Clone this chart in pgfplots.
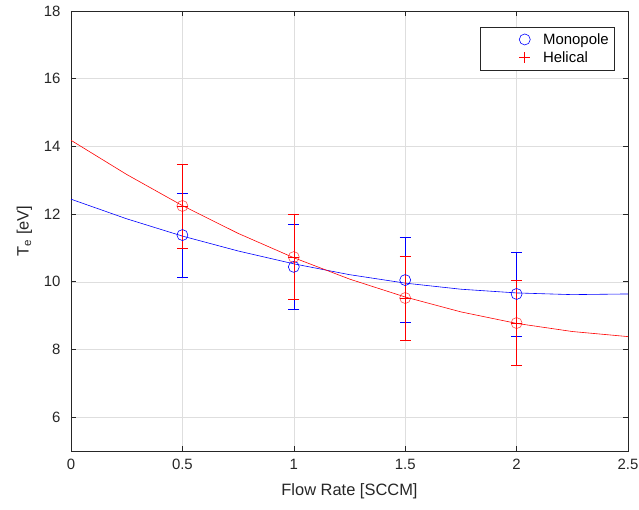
\documentclass[border=0pt]{standalone}
\usepackage{fontspec}
\setmainfont{Liberation Sans}
\usepackage{pgfplots}
\pgfplotsset{compat=1.18}

% measured data (Te vs flow rate) with +/- error
\pgfplotstableread{
x   y      e
0.5 11.38  1.24
1.0 10.44  1.25
1.5 10.05  1.26
2.0 9.64   1.24
}\monopole
\pgfplotstableread{
x   y      e
0.5 12.24  1.24
1.0 10.73  1.26
1.5 9.52   1.24
2.0 8.78   1.26
}\helical
% quadratic fits, sampled every 0.25
\pgfplotstableread{
x    y
0    12.44
0.25 11.86
0.5  11.35
0.75 10.91
1.0  10.53
1.25 10.21
1.5  9.96
1.75 9.78
2.0  9.67
2.25 9.62
2.5  9.64
}\monofit
\pgfplotstableread{
x    y
0    14.18
0.25 13.17
0.5  12.25
0.75 11.43
1.0  10.71
1.25 10.08
1.5  9.55
1.75 9.11
2.0  8.77
2.25 8.53
2.5  8.38
}\helifit

\definecolor{axgray}{gray}{0.15}
\definecolor{gridgray}{gray}{0.87}

\begin{document}
\begin{tikzpicture}
\path[use as bounding box] (-71bp,-59bp) rectangle (568bp,451bp);
\begin{axis}[
  at={(0,0)}, anchor=south west,
  scale only axis,
  width=557bp, height=440bp,
  xmin=0, xmax=2.5, ymin=5, ymax=18,
  xtick={0,0.5,...,2.5}, ytick={6,8,...,18},
  tick align=inside,
  major tick length=5bp,
  axis line style={axgray, line width=0.6pt},
  every tick/.style={axgray, line width=0.6pt},
  grid=major,
  grid style={gridgray, line width=0.5pt},
  ticklabel style={font=\fontsize{15}{16}\selectfont, text=axgray},
  xticklabel style={yshift=-5bp},
  yticklabel style={xshift=-7bp},
  /pgf/number format/assume math mode=true,
  xlabel={Flow Rate [SCCM]},
  ylabel={T\textsubscript{e} [eV]},
  label style={font=\fontsize{16.5}{18}\selectfont, text=axgray},
  xlabel style={yshift=-7bp},
  ylabel style={yshift=5bp},
  legend style={at={(1,1)}, anchor=north east, xshift=-13bp, yshift=-16bp,
    draw=axgray, line width=0.6pt, font=\fontsize{15}{17}\selectfont,
    inner xsep=4bp, inner ysep=4bp, row sep=2bp},
  legend cell align=left,
  legend image code/.code={\path (-40bp,0bp) (16bp,0bp);
    \draw[#1] plot coordinates {(0bp,0bp)};},
]
\addplot[blue, line width=0.6pt, forget plot] table[x=x,y=y] {\monofit};
\addplot[red, line width=0.6pt, forget plot] table[x=x,y=y] {\helifit};

\addplot[blue, only marks, mark=o, mark size=5.5bp, line width=0.6pt, forget plot,
  error bars/.cd, y dir=both, y explicit,
  error mark options={color=blue, mark size=5.5bp, line width=0.7pt, rotate=90},
  error bar style={color=blue, line width=0.6pt}]
  table[x=x, y=y, y error=e] {\monopole};

\addplot[red, only marks, mark=+, mark size=5.5bp, line width=0.6pt, forget plot,
  error bars/.cd, y dir=both, y explicit,
  error mark options={color=red, mark size=5.5bp, line width=0.7pt, rotate=90},
  error bar style={color=red, line width=0.6pt}]
  table[x=x, y=y, y error=e] {\helical};

\addplot[red, opacity=0.7, only marks, mark=o, mark size=5.5bp, line width=0.6pt, forget plot]
  table[x=x, y=y] {\helical};

\addlegendimage{blue, only marks, mark=o, mark size=5.5bp, line width=0.6pt}
\addlegendentry{Monopole}
\addlegendimage{red, only marks, mark=+, mark size=5.5bp, line width=0.6pt}
\addlegendentry{Helical}
\end{axis}
\end{tikzpicture}
\end{document}
